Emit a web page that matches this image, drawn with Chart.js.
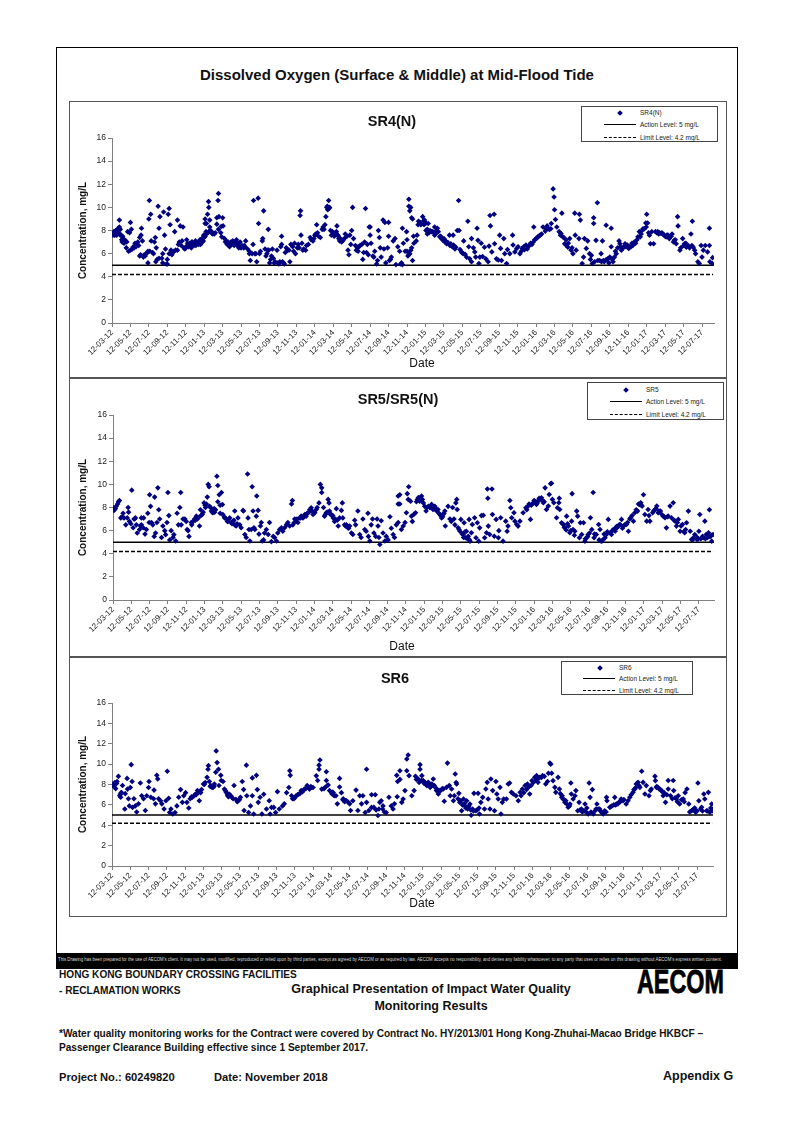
<!DOCTYPE html>
<html>
<head>
<meta charset="utf-8">
<title>Dissolved Oxygen</title>
<script src="https://cdn.jsdelivr.net/npm/chart.js@4"></script>
<style>
body { margin: 0; background: #fff; font-family: "Liberation Sans", Arial, sans-serif; color: #111; }
#page { position: relative; width: 794px; height: 1123px; overflow: hidden; }
#page div, #page canvas { position: absolute; }
.b { font-weight: bold; white-space: nowrap; }
.legend { border: 1px solid #444; background: #fff; box-sizing: border-box; }
.legend span { position: absolute; font-size: 6.5px; color: #222; white-space: nowrap; line-height: 8px; }
</style>
</head>
<body>
<div id="page"></div>
<script>
// x = months since 12-03-12, y = mg/L
var tickLabels = ['12-03-12','12-05-12','12-07-12','12-09-12','12-11-12','12-01-13','12-03-13','12-05-13','12-07-13','12-09-13','12-11-13',
  '12-01-14','12-03-14','12-05-14','12-07-14','12-09-14','12-11-14','12-01-15','12-03-15','12-05-15','12-07-15','12-09-15','12-11-15',
  '12-01-16','12-03-16','12-05-16','12-07-16','12-09-16','12-11-16','12-01-17','12-03-17','12-05-17','12-07-17'];
var actionLevel = 5;
var limitLevel = 4.2;
var panelTitles = ['SR4(N)', 'SR5/SR5(N)', 'SR6'];
var seriesNames = ['SR4(N)', 'SR5', 'SR6'];

var sr4Points = [[.1,7.6],[.2,7.9],[.3,7.6],[.4,8],[.5,7.6],[.6,8.1],[.7,7.8],[.7,8.2],[.8,8.3],[.8,8.9],[.9,7.6],[1,7.6],[1.05,7.2],[1.1,7],[1.15,7.5],[1.25,7.1],[1.3,6.9],[1.4,7],[1.5,7.1],[1.55,6.5],[1.7,7.9],[1.8,6.2],[1.9,7.8],[2,8.7],[2,6.3],[2.1,8.1],[2.2,6.4],[2.3,6.6],[2.5,6.9],[2.6,6.6],[2.8,7],[2.9,6.7],[3,5.8],[3,7.4],[3.1,5.9],[3.15,7.6],[3.2,8.2],[3.3,7.1],[3.4,5.7],[3.6,5.8],[3.7,6],[3.85,6.1],[3.9,6.2],[3.9,5.2],[4,9],[4.05,10.6],[4.1,6.2],[4.2,9.4],[4.25,7.1],[4.4,6.1],[4.5,6],[4.6,7],[4.7,7.4],[4.8,6.5],[4.75,5.3],[4.9,5.5],[5,10.1],[5.1,5.6],[5.1,8.2],[5.2,9.2],[5.4,5.6],[5.5,5.2],[5.5,6],[5.6,9.6],[5.7,7.6],[5.8,6.4],[5.9,5.1],[6,5.5],[6,5.1],[6.1,9.4],[6.2,9.9],[6.3,8.5],[6.2,6],[6.4,6.3],[6.5,5.9],[6.6,6.1],[6.7,6.2],[6.8,7.9],[6.9,6.3],[7.1,6.3],[7.1,8.9],[7.2,6.8],[7.3,7],[7.4,8.4],[7.5,6.7],[7.6,7.1],[7.7,8.3],[7.8,6.5],[7.9,6.4],[8,6.5],[8.1,7.2],[8.2,6.9],[8.3,6.6],[8.4,6.7],[8.5,6.8],[8.6,6.5],[8.7,7],[8.8,6.8],[9,6.9],[9.1,6.7],[9.2,7],[9.3,6.9],[9.5,7],[9.6,6.8],[9.7,7.2],[9.8,7],[9.9,7.1],[10,7.4],[10.1,7.5],[10.25,7.7],[10.4,7.8],[10.5,7.9],[10.7,8],[10.1,9],[10.1,8.6],[10.25,8.6],[10.36,9.4],[10.47,10.5],[10.5,10],[10.6,8.9],[10.6,8.3],[10.8,7.8],[11,7.75],[11.2,7.8],[11.37,9.1],[11.37,8.55],[11.5,10.6],[11.55,11.2],[11.6,9.2],[11.55,8.1],[11.85,8.35],[12,9.1],[12.05,8.4],[11.8,7.8],[11.9,7.45],[12.2,7.3],[12.3,7],[12.4,7.1],[12.5,6.8],[12.6,7],[12.7,6.7],[12.8,6.9],[12.9,7],[13,6.8],[13.1,7.1],[13.2,6.9],[13.3,6.8],[13.4,7],[13.5,7.2],[13.6,6.7],[13.7,6.9],[13.8,6.6],[13.9,7],[14,6.5],[14.2,6.6],[14.3,6.5],[14.4,6.6],[14.5,7.1],[14.7,6.4],[14.9,6.2],[14.9,6],[15,5.4],[15.2,6],[15.3,6.8],[15.35,10.6],[15.5,6],[15.6,6],[15.7,5.3],[15.85,10.8],[15.9,8.6],[16,6],[16.1,6.2],[16.3,7.1],[16.35,7.3],[16.45,9.7],[16.6,6.4],[16.7,5.8],[16.8,6],[16.9,6.3],[16.95,8.1],[17,6.3],[17.1,5.2],[17.2,5.5],[17.3,5.8],[17.4,6.4],[17.5,5.6],[17.6,5.2],[17.7,5.3],[17.9,6.3],[18,5.2],[18.1,5.1],[18.2,5.3],[18.3,6.6],[18.4,7.5],[18.4,6.8],[18.5,5.3],[18.6,5.2],[18.7,5.1],[18.8,6.1],[18.9,6.5],[19,6.3],[19.2,6.3],[19.3,5.3],[19.4,6.8],[19.6,6.6],[19.7,6.2],[19.8,6.9],[19.9,6],[20.1,6.5],[20.2,6.8],[20.3,6.5],[20.4,9.3],[20.45,9.7],[20.5,7.6],[20.6,6.9],[20.7,6.3],[20.8,6.4],[21,6.3],[21.1,6.7],[21.3,6.8],[21.5,7.4],[21.6,7.2],[21.8,7.1],[21.9,7.3],[22,7.6],[22.1,7.7],[22.2,8.5],[22.3,7.8],[22.4,7.5],[22.6,7.4],[22.8,8.1],[22.9,8.3],[23,8.1],[23.1,8.5],[23.2,9.2],[23.3,10],[23.35,10.1],[23.4,9.8],[23.5,10.6],[23.55,9.9],[23.6,10],[23.7,8],[23.8,7.6],[23.9,7.9],[24,7.8],[24.1,7.5],[24.2,7.8],[24.3,7.7],[24.4,8.4],[24.5,7.6],[24.6,7.3],[24.7,7.1],[24.8,7.2],[24.9,7],[25,7.1],[25.2,7.3],[25.3,7.7],[25.5,7.5],[25.6,6.3],[25.7,5.9],[25.8,7.6],[25.9,6.8],[26,8],[26.1,10],[26.2,7.3],[26.4,6.7],[26.5,6.3],[26.6,6.5],[26.7,6.2],[26.8,6.6],[26.9,6.7],[27.1,6.8],[27.2,5.5],[27.3,6.1],[27.4,7],[27.5,9.9],[27.6,6.1],[27.7,6.8],[27.8,5.9],[27.9,8.3],[28,7.6],[28,8.3],[28.1,6.9],[28.3,5.8],[28.4,5.7],[28.5,6.2],[28.7,5.1],[28.8,5.4],[28.9,8],[29,7.4],[29.1,6.5],[29.2,5.7],[29.4,8.9],[29.5,6.4],[29.6,8.7],[29.7,5.2],[29.9,6.5],[30,8.7],[30,7.5],[30.1,5.4],[30.2,5.5],[30.3,5.7],[30.5,7.1],[30.7,7.3],[30.8,5.05],[31,6.6],[31.2,6.2],[31.3,5.1],[31.4,5.2],[31.5,5.05],[31.6,6.9],[31.8,6.2],[32,6.2],[32.1,5.8],[32.2,5.9],[32.3,6],[32.4,6.3],[32.5,6.5],[32.6,5.4],[31.5,8.2],[31.95,7.9],[32,7.2],[32.2,10.7],[32.2,10.1],[32.4,10],[32.3,9.7],[32.5,9.1],[32.6,9],[32.7,7.5],[32.75,6.9],[33,7.1],[33.1,7.6],[33.2,8.5],[33.25,8.8],[33.4,8.7],[33.5,8.5],[33.7,9.2],[33.75,8.8],[33.9,8.9],[34.05,8.65],[34.3,8.6],[34.05,8],[34.2,7.7],[34.5,8],[34.65,7.9],[35,8.3],[35,7.6],[35.2,8],[35.4,7.9],[35.55,7.45],[35.75,7.3],[35.9,7.15],[36.1,7],[36.3,6.85],[36.6,7.6],[36.65,6.7],[36.9,6.6],[37,7.6],[37.2,6.4],[37.45,8],[37.6,10.6],[37.65,8],[37.9,6.15],[38.1,6],[38.15,7.1],[38.3,5.95],[38.45,5.7],[38.6,8.8],[38.7,6.6],[38.8,5.55],[39,7.3],[39,5.3],[39.2,6.5],[39.35,6.15],[39.45,5.7],[39.6,8.2],[39.7,7.15],[39.8,5.15],[39.9,5.7],[40.05,6.9],[40.2,5.75],[40.4,6.55],[40.55,5.55],[40.8,5.3],[40.9,6.65],[41,9.3],[41.05,8.4],[41.2,6.15],[41.45,9.4],[41.5,6.85],[41.7,5.55],[41.9,5.45],[42.05,7.6],[42.15,6.45],[42.25,5.4],[42.5,7.3],[42.6,6],[42.8,5.15],[42.9,6.35],[43.15,6],[43.45,7.6],[43.5,6.75],[43.7,6.15],[43.9,6.45],[44.05,6.6],[44.25,6],[44.5,6.45],[44.65,6.6],[44.9,6.75],[45.15,6.6],[45.4,6.9],[45.7,7],[45.75,8.3],[46,7.3],[46.2,7.45],[46.45,7.6],[46.75,8.3],[47.05,8.15],[47.3,8.15],[47.6,8.15],[47.65,8.6],[47.85,11.6],[47.95,10.9],[48,9.8],[48.1,8.95],[48.25,8.3],[48.5,7.9],[48.65,7.6],[48.8,9.5],[48.9,7.45],[49.1,6.85],[49.3,6.7],[49.45,6.55],[49.65,7.3],[49.8,6.3],[50,6],[50.2,9.5],[50.25,7.6],[50.35,6.3],[50.65,7.3],[50.7,9.4],[50.8,8.9],[51,5.15],[51.15,5.7],[51.25,7.3],[51.45,6.45],[51.6,7.1],[51.8,6],[52,5.85],[52.1,5.15],[52.25,9.1],[52.25,8.6],[52.5,7.15],[52.65,10.4],[52.7,5.4],[53.05,6],[53.2,7.1],[53.3,5.4],[53.55,5.45],[53.6,8.45],[53.8,5.55],[54,5.7],[54.15,8.2],[54.15,6.6],[54.35,5.3],[54.5,5.7],[54.7,6],[55,7.1],[55.1,6.85],[55.25,6.3],[55.4,6.45],[55.65,6.85],[55.75,6.6],[56.05,6.45],[56.3,6.6],[56.5,6.7],[56.8,6.9],[57.05,7.45],[57.2,7.9],[57.4,7.7],[57.6,8.15],[57.75,8.15],[57.9,8.65],[58,9.4],[58.1,8.65],[58.3,7.6],[58.4,6.85],[58.55,7.9],[58.75,6.85],[58.95,7.9],[59.2,7.9],[59.4,7.8],[59.55,7.75],[59.75,7.7],[59.9,7.6],[60.1,7.45],[60.3,7.6],[60.55,7.45],[60.75,7.7],[61,7.15],[61.2,6.85],[61.35,9.2],[61.4,8.4],[61.6,6.3],[61.9,7.3],[62.1,6.85],[62.3,6.55],[62.5,6.7],[62.8,7.7],[62.95,8.8],[63.05,6.55],[63.3,6],[63.55,5.3],[63.7,5.15],[63.9,6.7],[64,5.7],[64.15,6.3],[64.35,6.7],[64.6,6.15],[64.8,8.2],[64.8,6.7],[64.85,5.3],[65.1,5.15],[65.15,5.65]];
var sr4Dense = [[.3,7.8],[.5,8],[.9,8.1],[1.2,7.3],[1.35,7.2],[1.6,7],[2.4,6.5],[2.7,6.8],[3.5,5.9],[8.15,6.7],[8.45,6.9],[8.65,7],[8.9,6.7],[9.05,7.1],[9.4,6.8],[9.55,7.2],[9.75,7.3],[9.95,7.6],[10.2,7.9],[10.6,7.95],[10.9,7.7],[11.1,7.7],[12.55,6.9],[12.75,6.6],[12.95,6.8],[13.15,7],[13.25,6.7],[13.45,6.9],[13.75,6.5],[14.1,6.7],[14.35,6.7],[24.15,7.7],[24.35,7.9],[24.55,7.5],[24.75,7.3],[25.1,7.2],[26.7,6.6],[33.6,8.6],[33.85,8.5],[34.2,8.1],[34.4,7.8],[34.8,7.9],[35.1,7.7],[35.3,8.2],[35.65,7.5],[36,7.3],[36.2,7.1],[36.45,6.95],[36.75,6.85],[37.05,6.75],[37.3,6.55],[37.75,6.35],[38,6.05],[44.4,6.2],[44.75,6.35],[45.05,6.4],[45.25,6.7],[45.55,6.8],[45.85,7.2],[46.1,7.35],[46.35,7.55],[46.6,7.7],[47,7.95],[47.2,8.4],[47.45,8.1],[48.7,7.75],[49,7.4],[49.25,7.2],[49.5,6.9],[49.9,6.5],[51.9,5.5],[52.35,5.3],[52.9,5.4],[53.1,5.3],[53.4,5.3],[53.7,5.5],[53.9,5.2],[54.25,5.5],[54.6,6.2],[54.85,6.5],[55.15,6.6],[55.5,6.6],[55.9,6.75],[56.15,6.6],[56.4,6.9],[56.65,7],[56.95,7.2],[57.3,7.45],[57.5,8],[57.95,8.3],[58.2,7.8],[59.1,7.8],[59.3,7.7],[59.65,7.8],[60,7.5],[60.2,7.6],[60.45,7.3],[60.65,7.5],[60.9,7],[61.1,7.2],[61.7,6.5],[62,6.7],[62.25,6.9],[62.65,6.5],[62.9,6.7],[63.2,6.3]];

var sr5Points = [[0,7.8],[0,8],[.1,7.75],[.25,7.9],[.35,8.1],[.5,8.3],[.6,8.5],[.7,8.6],[.85,7.1],[1,7.2],[1.1,7.5],[1.2,7.1],[1.4,6.5],[1.55,7.1],[1.65,8],[1.7,7.6],[1.8,6.8],[1.95,6.6],[2.05,9.5],[2.2,6.25],[2.3,7],[2.45,7.1],[2.55,6.5],[2.65,5.8],[2.9,6.1],[3.1,7.1],[3.1,6.5],[3.3,6.25],[3.35,7.1],[3.5,5.7],[3.65,6.1],[3.8,7.5],[3.95,6.7],[4,9.1],[4.1,8.1],[4.2,6.7],[4.35,6.5],[4.5,5.5],[4.55,8.9],[4.65,5.8],[4.8,6.7],[4.9,9.7],[5,7.8],[5.1,7],[5.3,5.4],[5.45,6.4],[5.65,6],[5.75,5.65],[5.9,6.7],[6,9.3],[6.1,7.3],[6.2,5.2],[6.35,6],[6.55,5.4],[6.65,5.65],[6.85,5.1],[7,7.5],[7.15,6.5],[7.3,8],[7.4,9.3],[7.45,6.5],[7.65,7],[7.85,7],[8,6.8],[8.1,6.1],[8.2,6],[8.3,5.5],[8.55,6.7],[8.75,6.8],[8.9,7],[9.1,7.25],[9.3,7.1],[9.45,6.4],[9.55,7.8],[9.75,7.4],[9.95,8.4],[10.1,8],[10.2,8.3],[10.3,8.9],[10.4,10],[10.5,9.8],[10.55,8.1],[10.75,7.7],[10.9,7.54],[11.05,7.9],[11.2,7.8],[11.35,10.7],[11.45,9.9],[11.45,8.5],[11.6,9.1],[11.7,8.2],[11.85,9.3],[11.95,8.25],[11.7,7.5],[12,7.4],[12.2,7.1],[12.4,7],[12.55,6.8],[12.75,7.1],[12.9,6.7],[13.1,6.8],[13.3,7.7],[13.3,6.5],[13.45,6.4],[13.65,7.1],[13.85,6.5],[14,6.25],[14.2,7.75],[14.25,7.7],[14.4,5.66],[14.55,5.4],[14.7,10.9],[14.75,7.1],[14.85,6.1],[14.95,5.1],[15.1,6.1],[15.2,9.8],[15.3,7.7],[15.4,6.25],[15.5,6.1],[15.65,7.25],[15.7,9],[15.85,7.75],[15.95,5.7],[16.1,6.4],[16.2,6.7],[16.3,5.1],[16.45,5.2],[16.55,5.8],[16.75,6.1],[16.95,5.66],[17.1,6.7],[17.3,5.05],[17.5,5.5],[17.65,5.4],[17.85,5.1],[18,5.8],[18.2,6.1],[18.4,6.25],[18.55,5.95],[18.75,6.25],[18.95,6.5],[19.1,6.7],[19.3,6.4],[19.5,8.3],[19.6,8.6],[19.65,6.5],[19.85,7],[20,6.8],[20.2,6.7],[20.4,7.1],[20.55,7.25],[20.75,7.1],[20.95,7.4],[21.1,7.25],[21.3,7.54],[21.5,7.83],[21.65,7.98],[21.85,7.4],[22.05,7.54],[22.2,7.83],[22.5,8.4],[22.65,10],[22.8,9.7],[22.8,9.3],[23,8],[23.1,7.25],[23.3,7.54],[23.5,8.7],[23.6,8.4],[23.65,7.7],[23.85,7.4],[24.05,7.1],[24.2,6.8],[24.4,7.9],[24.6,6.4],[24.75,7.1],[24.95,7.75],[25.05,8.4],[25.1,7.1],[25.3,6.5],[25.5,6.5],[25.65,6.25],[25.85,6.4],[26.05,5.8],[26.2,5.66],[26.4,6.9],[26.5,6.5],[26.75,7.7],[26.95,5.66],[27.1,5.4],[27.3,7],[27.5,6.1],[27.65,5.95],[27.85,7.5],[27.9,5.5],[28.05,5.1],[28.2,6.5],[28.35,7],[28.5,5.8],[28.7,5.5],[28.85,7],[28.95,6.4],[29.05,5.4],[29.15,4.8],[29.3,6.85],[29.5,5.8],[29.7,5.1],[29.85,5.5],[30.05,5.2],[30.25,7.2],[30.4,6.2],[30.6,5.66],[30.75,5.4],[30.95,6.5],[31.15,9],[31.15,8.3],[31.15,6.7],[31.33,9.1],[31.33,8.3],[31.5,6.1],[31.7,6.4],[31.9,6.7],[32.05,7.54],[32.15,9.2],[32.3,9.8],[32.25,8.7],[32.5,8.55],[32.6,7.25],[32.7,6.8],[32.85,7.4],[33.05,7.54],[33.15,8.5],[33.35,8.85],[33.5,8.55],[33.7,9],[33.8,8.7],[34.05,8.1],[34.2,7.7],[34.45,8.1],[34.6,8],[34.8,8.27],[34.95,7.83],[35.15,8.1],[35.35,7.7],[35.5,7.83],[35.7,7.4],[35.9,7.1],[36.05,7.4],[36.25,7.7],[36.3,6.4],[36.6,8.1],[36.8,7],[36.95,6.8],[37.1,8],[37.35,6.5],[37.45,8.4],[37.55,8.7],[37.6,7.83],[37.7,6.25],[37.9,5.95],[38,6.97],[38.25,5.66],[38.35,6.68],[38.5,5.38],[38.6,5.95],[38.8,5.52],[38.9,6.97],[39,5.09],[39.15,5.81],[39.25,6.53],[39.5,7.11],[39.65,5.38],[39.8,6.68],[39.95,5.09],[40.05,6.24],[40.25,7.3],[40.45,7.33],[40.6,5.38],[40.8,5.81],[40.9,9.6],[40.95,8.8],[41,6.39],[41.15,5.66],[41.4,9.6],[41.45,7.4],[41.65,5.52],[41.85,6.97],[42.1,5.38],[42.15,6],[42.35,7.11],[42.6,5.09],[42.9,6.82],[43.05,5.95],[43.15,6.39],[43.35,8.6],[43.45,7.98],[43.55,7.11],[43.8,7.54],[43.9,6.82],[44.1,6.53],[44.25,6.39],[44.45,6.82],[44.8,7.54],[45.1,7.98],[45.35,8.12],[45.6,6.97],[45.9,8.41],[46.05,8.55],[46.25,8.27],[46.45,8.6],[46.65,8.7],[46.8,8.84],[47,8.41],[47.2,9.7],[47.35,7.83],[47.55,8.12],[47.65,9.13],[47.8,10.05],[47.9,10.1],[48,8.7],[48.15,8.41],[48.45,7.11],[48.55,7.98],[48.75,8.8],[48.7,8.41],[48.8,7.83],[49,6.68],[49.2,6.53],[49.35,6.24],[49.55,7.25],[49.75,6.39],[49.9,5.81],[50.1,6.82],[50.15,9.2],[50.25,6.1],[50.45,5.95],[50.65,7.69],[50.75,7.25],[50.95,5.38],[51.05,6.68],[51.2,5.66],[51.4,6.68],[51.55,5.09],[51.75,5.38],[51.9,5.66],[52.15,7.11],[52.3,6.1],[52.45,9.3],[52.55,5.38],[52.8,5.66],[53.05,6.53],[53.2,6.1],[53.4,5.09],[53.55,5.23],[53.75,5.38],[53.9,5.66],[54.1,6.97],[54.3,5.81],[54.45,5.66],[54.65,6.1],[54.85,5.95],[55.05,6.24],[55.2,6.39],[55.4,6.53],[55.55,6.97],[55.75,6.39],[56.1,6.53],[56.3,5.95],[56.55,7.11],[56.85,6.82],[57,7.54],[57.3,7.69],[57.5,8.27],[57.65,8.41],[57.8,8.12],[57.95,9.1],[58.1,7.4],[58.3,6.82],[58.45,7.83],[58.65,6.82],[58.95,7.54],[59.2,7.83],[59.4,8.12],[59.55,7.54],[59.8,7.69],[60.1,7.25],[60.3,7.11],[60.45,6.24],[60.65,7.25],[60.85,8.12],[61,7.11],[61.2,8.41],[61.4,6.82],[61.55,6.39],[61.75,6.97],[61.95,5.95],[62.2,6.53],[62.45,5.81],[62.65,6.68],[62.85,7.69],[63.05,5.95],[63.2,5.23],[63.4,5.38],[63.55,5.66],[63.8,5.23],[64,5.95],[64.1,7.4],[64.3,5.38],[64.5,5.38],[64.65,6.82],[64.8,5.66],[65.05,5.81],[65.15,7.8],[65.3,5.52],[65.4,5.09],[65.55,5.66]];
var sr5Dense = [[.2,7.9],[2.35,7],[3,6.4],[8.6,6.5],[9,6.9],[9.2,7],[9.6,7.3],[9.85,7.6],[10.05,8.2],[10.65,8],[10.85,7.6],[11.1,7.6],[12.15,7.2],[12.5,6.8],[12.65,7],[13,6.6],[13.2,6.9],[13.55,6.6],[19.8,6.7],[20.1,7],[20.5,7.1],[20.85,7.2],[21.2,7.5],[21.4,7.6],[21.75,7.7],[22.3,8],[23.2,7.4],[23.4,7.6],[23.75,7.4],[24,7.3],[24.3,7],[24.5,6.9],[25.4,6.4],[25.75,6.2],[33.25,8.7],[33.45,8.8],[33.9,8.4],[34.3,8],[34.7,8],[35.05,7.9],[35.25,7.9],[35.6,7.5],[35.8,7.3],[36,7.2],[36.15,7.5],[37.25,7],[37.8,6.1],[38.15,5.7],[38.3,5.4],[38.45,5.9],[38.7,5.3],[38.95,5.2],[45.2,7.8],[45.45,8.3],[45.7,8.2],[46,8.6],[46.35,8.4],[46.55,8.8],[46.95,8.6],[47.1,8.5],[49.1,6.6],[49.3,6.3],[49.5,6.05],[49.65,6.6],[50,6],[50.4,5.6],[51.6,5.3],[51.85,5.5],[52.05,5.8],[52.6,5.7],[53.1,5.2],[53.3,5.1],[53.65,5.7],[54,5.9],[54.55,6],[54.75,6.1],[55,6.35],[55.3,6.5],[55.65,6.2],[55.9,6.5],[56.2,6.7],[56.45,7],[56.7,7.3],[57.15,7.8],[57.4,8.3],[57.7,8.2],[58.55,7.3],[59.05,7.7],[59.3,7.9],[59.65,7.7],[59.95,7.4],[60.2,7.2],[60.55,7.2],[61.3,6.9],[61.65,6.7],[62.05,6.4],[62.35,5.9],[62.55,6.1],[63.3,5.2],[63.7,5.5],[63.95,5.3],[64.2,5.3],[64.4,5.5],[64.7,5.3],[64.95,5.4],[65.2,5.5],[65.35,5.6]];

var sr6Points = [[0,8.05],[.2,7.8],[.3,8.2],[.4,7.6],[.55,8.3],[.7,8.8],[.9,7.05],[.95,6.75],[1.05,7.2],[1.15,7.9],[1.4,5.6],[1.45,7.1],[1.65,8.6],[1.7,7.55],[1.8,6.6],[1.9,5.9],[2,7.7],[2.1,9.95],[2.2,8.3],[2.25,5.75],[2.4,6.6],[2.55,5.9],[2.7,5.3],[2.9,6.1],[3.1,8.15],[3.25,6.9],[3.45,6.6],[3.65,5.45],[3.8,6.9],[4.05,8.3],[4,7.7],[4.25,6.75],[4.55,6.6],[4.6,7.45],[4.75,6.1],[4.9,8.9],[5,8.55],[5.1,6.6],[5.3,6.4],[5.45,6.1],[5.7,5.6],[5.9,6.4],[6.05,9.3],[6.2,6.65],[6.3,5.25],[6.45,5.6],[6.65,5.1],[6.9,5.25],[7.1,5.9],[7.3,6.75],[7.5,7.5],[7.7,6.25],[7.85,6.9],[8.05,7.2],[8.2,6.25],[8.4,5.7],[8.55,6.6],[8.8,6.75],[9.1,7.05],[9.35,7.4],[9.55,6.4],[9.7,7.2],[10,8.05],[10.2,8.2],[10.4,8.7],[10.5,9.5],[10.55,9.85],[10.65,8.3],[10.8,7.9],[11.05,7.7],[11.2,8.05],[11.35,9.2],[11.4,11.3],[11.5,10.15],[11.65,9.5],[11.7,7.9],[11.9,8.9],[11.95,8.4],[12.15,8.3],[12.3,7.55],[12.5,7.25],[12.65,6.9],[12.85,7.05],[13.1,6.75],[13.35,7.9],[13.55,6.55],[13.8,6.4],[14.05,6.75],[14.25,8.3],[14.4,7.5],[14.45,5.45],[14.7,9.9],[14.75,6.9],[14.95,5.25],[15.15,5.9],[15.35,8.65],[15.35,6.9],[15.5,5.1],[15.8,8.9],[15.9,7.5],[16,6.25],[16.2,6.75],[16.4,5.1],[16.6,7.05],[16.9,5.6],[17.2,6.4],[17.3,5.1],[17.45,5.75],[17.7,5.75],[17.9,5.25],[18.1,7.3],[18.3,5.6],[18.65,5.9],[18.85,6.1],[19.1,7.2],[19.35,7.7],[19.45,9.35],[19.5,8.9],[19.65,6.9],[19.9,6.6],[20.15,6.9],[20.4,7.05],[20.7,7.4],[21.05,7.55],[21.35,7.9],[21.6,7.55],[21.85,7.7],[22.35,8.85],[22.5,8.4],[22.65,9.5],[22.65,9.9],[22.75,10.4],[22.95,7.55],[23.3,7.7],[23.45,9.25],[23.45,8.4],[23.65,7.95],[23.8,7.4],[24.1,7.25],[24.3,6.9],[24.65,6.1],[24.9,8.6],[24.9,7.75],[25.1,7.2],[25.3,6.6],[25.55,6.4],[25.85,6.25],[26.1,5.45],[26.35,6.4],[26.7,7.45],[26.9,5.45],[27.1,6.9],[27.3,6.1],[27.45,6.9],[27.7,5.25],[27.85,9.5],[27.85,6.25],[28.1,5.45],[28.4,7],[28.4,5.75],[28.65,5.75],[28.8,7],[29.1,4.95],[29.3,6.25],[29.45,6.4],[29.65,5.9],[30,5.25],[30.3,6.75],[30.55,5.9],[30.75,5.6],[30.9,6.1],[31.15,8.9],[31.2,6.8],[31.25,8.3],[31.5,9.35],[31.5,8.5],[31.7,6.25],[31.85,6.58],[32.05,7.4],[32.25,10.5],[32.4,10.9],[32.25,9.35],[32.5,8.87],[32.8,6.9],[33.05,7.4],[33.2,8.8],[33.5,8.54],[33.7,9.95],[33.7,9.5],[33.9,8.87],[34.05,8.38],[34.25,8.21],[34.45,7.89],[34.6,8.21],[34.8,7.72],[35,8.05],[35.15,8.54],[35.35,7.72],[35.5,7.4],[35.7,7.07],[35.95,7.4],[36.25,7.56],[36.35,6.35],[36.6,7.72],[36.7,10.1],[36.9,7.89],[37,6.9],[37.15,7.56],[37.35,6.41],[37.55,9.03],[37.65,8.2],[37.7,8.05],[37.95,7.13],[38.05,6.25],[38.25,5.43],[38.45,6.58],[38.6,5.92],[38.8,6.41],[38.95,5.76],[39.15,6.09],[39.3,4.98],[39.45,5.6],[39.6,7.13],[39.8,5.43],[40.05,7.13],[40.2,5.1],[40.35,6.25],[40.55,6.74],[40.75,5.6],[40.9,7.56],[41.05,8.21],[41.15,6.58],[41.35,5.6],[41.45,8.54],[41.65,7.4],[41.85,5.43],[42,8.3],[42.1,7.07],[42.25,6.58],[42.45,7.72],[42.55,5.1],[42.7,6.25],[42.85,6.58],[43.15,6.58],[43.35,8.05],[43.5,8.15],[43.7,7.23],[43.9,7.07],[44.2,6.9],[44.45,6.41],[44.65,7.23],[44.9,7.56],[45.2,7.89],[45.45,8.05],[45.7,7.07],[45.95,8.38],[46.25,8.7],[46.45,8.87],[46.6,8.21],[46.8,8.7],[47.1,8.87],[47.45,8.05],[47.65,8.3],[47.75,9.1],[47.9,10.1],[48,10],[48.1,9.1],[48.25,8.38],[48.45,7.72],[48.55,7.23],[48.8,8.7],[48.95,7.56],[49.2,6.74],[49.35,6.58],[49.55,6.25],[49.75,6.09],[49.9,5.76],[50.1,6.09],[50.2,8.15],[50.25,7.07],[50.45,6.58],[50.65,6.9],[50.75,7.4],[50.95,5.43],[51.1,6.25],[51.35,5.6],[51.55,5.43],[51.75,6.09],[51.9,5.27],[52.1,5.1],[52.2,8.15],[52.3,6.74],[52.55,7.5],[52.65,5.1],[52.85,5.43],[53.05,6.09],[53.35,5.6],[53.55,5.27],[53.75,5.1],[53.9,5.43],[54.1,6.74],[54.15,6.41],[54.45,5.76],[54.7,5.92],[55,6.74],[55.2,6.09],[55.45,6.25],[55.7,6.58],[56,6.52],[56.25,6.09],[56.65,6.74],[57,7.23],[57.2,7.56],[57.35,8.05],[57.55,8.21],[57.75,7.72],[57.95,9.3],[58.1,8.21],[58.3,7.07],[58.45,7.89],[58.75,6.9],[59,7.56],[59.4,8.8],[59.45,8.38],[59.55,7.72],[59.85,7.56],[60.1,7.4],[60.3,6.9],[60.55,6.25],[60.85,8.4],[60.85,7.56],[61.1,6.9],[61.4,8.4],[61.45,7.4],[61.75,6.58],[61.95,6.9],[62.1,6.09],[62.5,6.58],[62.7,7.2],[62.9,7.56],[63.1,6.09],[63.4,5.43],[63.65,5.6],[63.85,5.27],[64.1,8.15],[64.2,6.41],[64.5,5.76],[64.75,7.07],[64.85,6.58],[65.05,5.43],[65.25,7.23],[65.4,5.27],[65.6,6.09],[65.75,5.6]];
var sr6Dense = [[.1,7.9],[.25,8],[.5,8.1],[.85,6.9],[1,7.2],[8.7,6.8],[9,6.9],[9.2,7],[9.45,7.2],[9.8,7.5],[10.1,8],[10.75,7.8],[10.95,7.7],[11.15,7.8],[12.4,7.4],[12.6,7.1],[12.75,6.8],[13,6.9],[13.25,6.6],[13.7,6.3],[13.95,6.5],[19.75,6.6],[20,6.7],[20.3,7],[20.55,7.1],[20.85,7.3],[21.2,7.6],[21.5,7.7],[21.75,7.8],[22,7.7],[23.2,7.6],[23.55,7.9],[24.05,7.1],[24.2,7.2],[24.5,6.9],[25.25,6.5],[25.45,6.3],[25.65,6.4],[26,6.1],[28.9,5.5],[29.2,5.6],[29.6,5.6],[29.8,5.3],[33.3,8.5],[33.6,8.2],[33.85,8.4],[34.15,8.1],[34.35,8],[34.7,8.1],[34.9,7.8],[35.25,7.9],[35.6,7.5],[35.85,7.4],[36.15,7.6],[37.45,6.9],[37.85,6.6],[38.15,6.4],[38.35,6],[38.55,6.1],[38.7,5.7],[38.9,5.6],[39.05,5.9],[39.25,5.5],[39.55,5.4],[39.95,5.5],[40.15,5.7],[44.75,6.9],[45.05,7.2],[45.35,7.5],[45.55,7.7],[45.85,7.9],[46.1,8.2],[46.35,8.4],[46.55,8.5],[47,8.7],[47.3,8.8],[49.05,7.1],[49.25,6.9],[49.45,6.5],[49.65,6.4],[50.05,5.9],[51.2,5.5],[51.45,5.3],[51.7,5.4],[51.95,5.7],[52.4,5.3],[52.95,5.6],[53.2,5.6],[53.45,5.4],[53.65,5.2],[54.05,5.3],[54.55,5.8],[54.9,6],[55.1,6],[55.35,6.1],[55.6,6.3],[55.9,6.4],[56.45,6.4],[56.8,7],[57.1,7.5],[57.3,7.7],[57.65,7.9],[58.9,7.4],[59.6,7.8],[59.75,7.7],[60,7.5],[60.2,7.3],[60.4,7.2],[60.7,7],[61.3,6.6],[61.6,6.7],[61.85,6.3],[62.3,6.5],[62.6,6.3],[63.2,5.3],[63.5,5.5],[63.75,5.7],[64,5.4],[64.4,5.6],[64.6,5.4],[65.15,5.4],[65.5,5.7],[65.65,5.4]];

var seriesPoints = [sr4Points.concat(sr4Dense), sr5Points.concat(sr5Dense), sr6Points.concat(sr6Dense)];

// layout of the three boxes on the sheet
var boxes = [
  { left: 69, top: 101, w: 658, h: 277, plotLeft: 43, plotRight: 13, plotTop: 37, plotBottom: 55, xMax: 65.3, titleX: 323, titleY: 21, dateX: 353, dateY: 263,
    legend: { x: 581, y: 106, w: 137, h: 36, sym: 38, lineL: 22, lineW: 32, text: 58, rows: [5.5, 18, 30.5] } },
  { left: 69, top: 378, w: 658, h: 279, plotLeft: 44, plotRight: 13, plotTop: 37, plotBottom: 57, xMax: 65.65, titleX: 329, titleY: 22, dateX: 333, dateY: 269,
    legend: { x: 587, y: 382, w: 137, h: 38, sym: 38, lineL: 22, lineW: 32, text: 58, rows: [6.5, 19, 32] } },
  { left: 69, top: 657, w: 658, h: 260, plotLeft: 43, plotRight: 14, plotTop: 46, plotBottom: 51, xMax: 65.75, titleX: 326, titleY: 22, dateX: 353, dateY: 247,
    legend: { x: 561, y: 661, w: 132, h: 34, sym: 38, lineL: 21, lineW: 32, text: 57, rows: [5.5, 17, 29] } }
];

var page = document.getElementById('page');

function addText(text, left, top, size, extra) {
  var d = document.createElement('div');
  d.className = 'b';
  d.textContent = text;
  d.style.left = left + 'px';
  d.style.top = top + 'px';
  d.style.fontSize = size + 'px';
  if (extra) d.style.cssText += extra;
  page.appendChild(d);
  return d;
}

function addRect(css) {
  var d = document.createElement('div');
  d.style.cssText = css;
  page.appendChild(d);
  return d;
}

// sheet frame and heading
addRect('left:56px;top:47px;width:680px;height:920px;border:1px solid #000;');
addText('Dissolved Oxygen (Surface & Middle) at Mid-Flood Tide', 0, 66, 15, 'width:794px;text-align:center;');

// title and Date go where the sheet has them, not centred on the axis
var panelText = {
  id: 'panelText',
  afterDraw: function (chart, args, opts) {
    var ctx = chart.ctx;
    ctx.save();
    ctx.fillStyle = '#111';
    ctx.textAlign = 'center';
    ctx.textBaseline = 'middle';
    ctx.font = 'bold 14.5px "Liberation Sans"';
    ctx.fillText(opts.title, opts.titleX, opts.titleY);
    ctx.font = '12px "Liberation Sans"';
    ctx.fillText('Date', opts.dateX, opts.dateY);
    ctx.restore();
  }
};

boxes.forEach(function (box, i) {
  var canvas = document.createElement('canvas');
  canvas.width = box.w;
  canvas.height = box.h;
  canvas.style.cssText = 'left:' + box.left + 'px;top:' + box.top + 'px;width:' + box.w + 'px;height:' + box.h + 'px;';
  page.appendChild(canvas);
  addRect('left:' + box.left + 'px;top:' + box.top + 'px;width:' + box.w + 'px;height:' + box.h + 'px;border:1px solid #555;box-sizing:border-box;');

  var chart = new Chart(canvas.getContext('2d'), {
    type: 'scatter',
    plugins: [panelText],
    data: {
      datasets: [
        { label: seriesNames[i], data: seriesPoints[i], pointStyle: 'rectRot', pointRadius: 2.8, pointBackgroundColor: '#000080', pointBorderWidth: 0 },
        { label: 'Action Level: 5 mg/L', data: [[0, actionLevel], [box.xMax, actionLevel]], showLine: true, borderColor: '#000', borderWidth: 1.6, pointRadius: 0 },
        { label: 'Limit Level: 4.2 mg/L', data: [[0, limitLevel], [box.xMax - 0.1, limitLevel]], showLine: true, borderColor: '#000', borderWidth: 1.4, borderDash: [4, 2], pointRadius: 0 }
      ]
    },
    options: {
      responsive: false,
      animation: false,
      devicePixelRatio: 1,
      layout: { padding: { left: 8, right: box.plotRight, top: box.plotTop, bottom: 0 } },
      plugins: {
        legend: { display: false },
        tooltip: { enabled: false },
        panelText: { title: panelTitles[i], titleX: box.titleX, titleY: box.titleY, dateX: box.dateX, dateY: box.dateY }
      },
      scales: {
        x: {
          type: 'linear',
          min: 0,
          max: box.xMax,
          afterFit: function (s) { s.height = box.plotBottom; },
          border: { color: '#808080', width: 1 },
          grid: { drawOnChartArea: false, color: '#808080', tickLength: 4 },
          ticks: {
            stepSize: 2,
            includeBounds: false,
            autoSkip: false,
            minRotation: 45,
            maxRotation: 45,
            padding: 1,
            color: '#222',
            font: { family: 'Liberation Sans', size: 8 },
            callback: function (v) { return tickLabels[v / 2]; }
          }
        },
        y: {
          min: 0,
          max: 16,
          afterFit: function (s) { s.width = box.plotLeft - 8; },
          border: { color: '#808080', width: 1 },
          grid: { drawOnChartArea: false, color: '#808080', tickLength: 4 },
          ticks: { stepSize: 2, padding: 2, color: '#222', font: { family: 'Liberation Sans', size: 8.5 } },
          title: { display: true, text: 'Concentration, mg/L', color: '#111', padding: 0, font: { family: 'Liberation Sans', weight: 'bold', size: 10 } }
        }
      }
    }
  });

  // boxed legend, rows come from the chart's datasets
  var lg = box.legend;
  var el = addRect('left:' + lg.x + 'px;top:' + lg.y + 'px;width:' + lg.w + 'px;height:' + lg.h + 'px;');
  el.className = 'legend';
  chart.data.datasets.forEach(function (ds, r) {
    var y = lg.rows[r];
    var label = document.createElement('span');
    label.textContent = ds.label;
    label.style.left = lg.text + 'px';
    label.style.top = (y - 4) + 'px';
    el.appendChild(label);
    var mark = document.createElement('div');
    if (r === 0) {
      mark.style.cssText = 'left:' + (lg.sym - 2) + 'px;top:' + (y - 2) + 'px;width:4px;height:4px;background:#000080;transform:rotate(45deg);';
    } else {
      mark.style.cssText = 'left:' + lg.lineL + 'px;top:' + (y - 1) + 'px;width:' + lg.lineW + 'px;height:0;border-top:1.5px ' + (r === 1 ? 'solid' : 'dashed') + ' #000;';
    }
    el.appendChild(mark);
  });
});

// footer strip and title block
addRect('left:56px;top:953px;width:681px;height:15px;background:#000;');
var notice = addText("This Drawing has been prepared for the use of AECOM's client. It may not be used, modified, reproduced or relied upon by third parties, except as agreed by AECOM or as required by law. AECOM accepts no responsibility, and denies any liability whatsoever, to any party that uses or relies on this drawing without AECOM's express written consent.", 58, 956, 6, 'color:#ddd;font-weight:normal;font-family:"Liberation Sans Narrow","Liberation Sans";transform-origin:0 0;');
notice.style.transform = 'scaleX(' + (664 / notice.offsetWidth) + ')';

addText('HONG KONG BOUNDARY CROSSING FACILITIES', 59, 969, 10.1);
addText('- RECLAMATION WORKS', 59, 985, 10.1);
addText('Graphical Presentation of Impact Water Quality', 201, 982, 12.5, 'width:460px;text-align:center;');
addText('Monitoring Results', 201, 999, 12.5, 'width:460px;text-align:center;');
var logo = addText('AECOM', 637, 963, 33, '-webkit-text-stroke:0.8px #000;color:#000;transform-origin:0 0;');
logo.style.transform = 'scaleX(' + (87 / logo.offsetWidth) + ')';
addText('*Water quality monitoring works for the Contract were covered by Contract No. HY/2013/01 Hong Kong-Zhuhai-Macao Bridge HKBCF \u2013', 59, 1028, 10.1);
addText('Passenger Clearance Building effective since 1 September 2017.', 59, 1042, 10.1);
addText('Project No.: 60249820', 59, 1071, 11.2);
addText('Date: November 2018', 214, 1071, 11.2);
addText('Appendix G', 663, 1069, 12.5);
</script>
</body>
</html>
